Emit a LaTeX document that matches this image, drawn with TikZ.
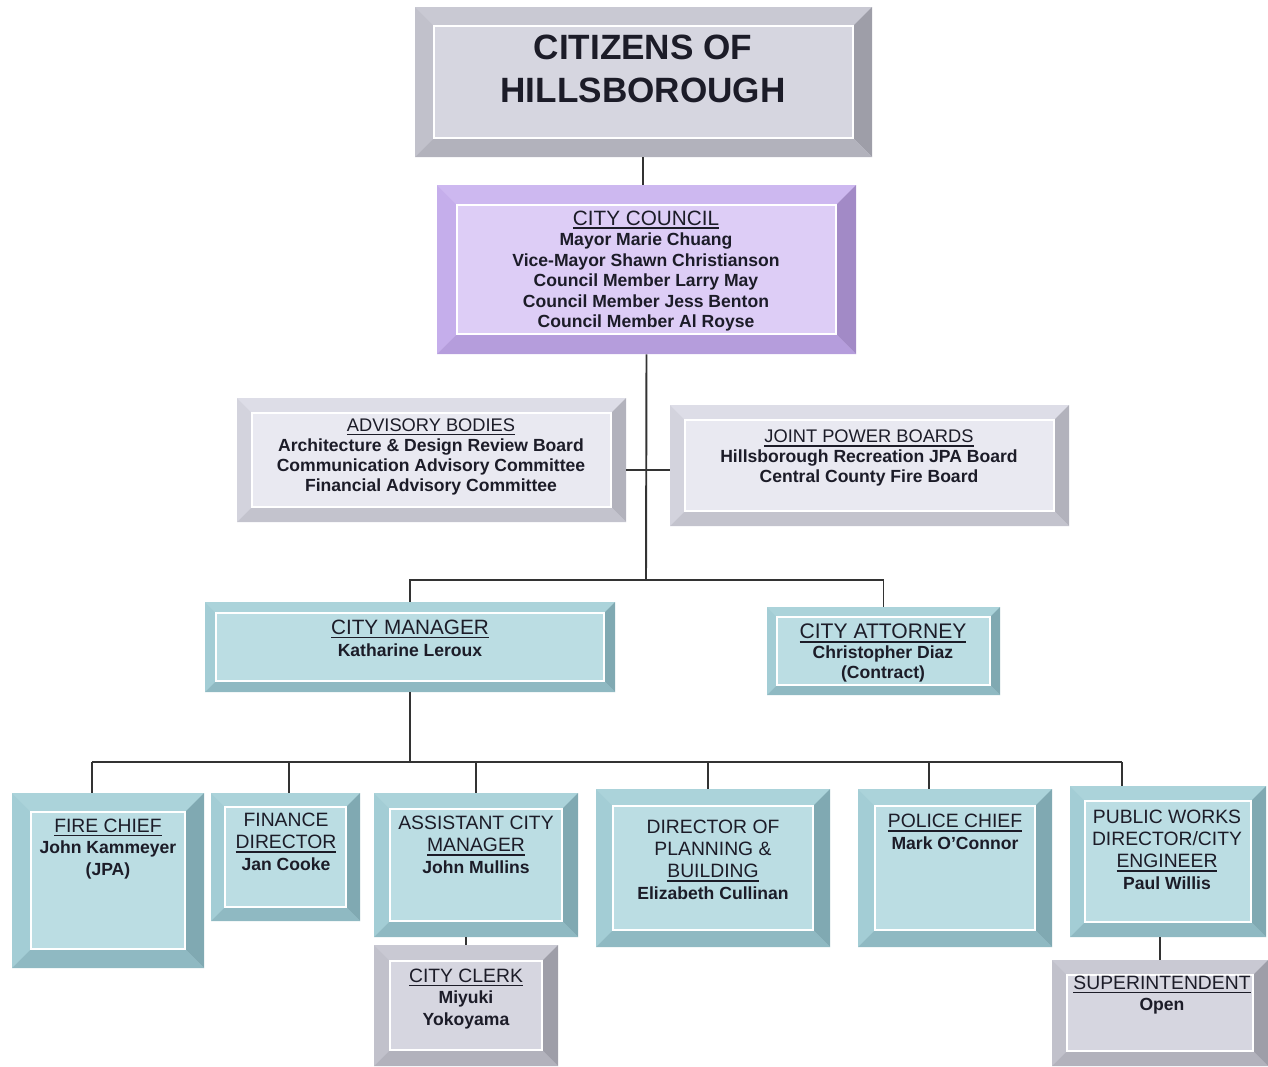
\documentclass[tikz,border=0pt]{standalone}
\usepackage{fontspec}
\setmainfont{Liberation Sans}
\usetikzlibrary{positioning}
\definecolor{Ink}{HTML}{1C1C28}
\definecolor{Wire}{HTML}{333333}
\definecolor{GreyFace}{HTML}{D6D6E0}
\definecolor{GreyTop}{HTML}{C9C9D3}
\definecolor{GreyLeft}{HTML}{C1C1CB}
\definecolor{GreyRight}{HTML}{9E9EA8}
\definecolor{GreyBot}{HTML}{B2B2BC}
\definecolor{LilacFace}{HTML}{DDCDF6}
\definecolor{LilacTop}{HTML}{CDB8F0}
\definecolor{LilacLeft}{HTML}{C5AEEB}
\definecolor{LilacRight}{HTML}{A28AC6}
\definecolor{LilacBot}{HTML}{B59DDC}
\definecolor{MistFace}{HTML}{E9E9F1}
\definecolor{MistTop}{HTML}{DDDDE7}
\definecolor{MistLeft}{HTML}{D3D3DD}
\definecolor{MistRight}{HTML}{B2B2BC}
\definecolor{MistBot}{HTML}{C3C3CD}
\definecolor{TealFace}{HTML}{BBDDE3}
\definecolor{TealTop}{HTML}{ABD3DA}
\definecolor{TealLeft}{HTML}{A3CDD5}
\definecolor{TealRight}{HTML}{80A9B2}
\definecolor{TealBot}{HTML}{8FB9C2}
\newcommand{\ulh}[1]{\setbox0=\hbox{#1}\rlap{\rule[-2.4pt]{\wd0}{1pt}}\box0}
\newcommand{\head}[2][11]{{\mdseries\fontsize{#1}{12}\selectfont\ulh{#2}}}
\newcommand{\headtop}[1]{{\mdseries\fontsize{11}{12}\selectfont #1}}

\begin{document}
\begin{tikzpicture}[x=0.02cm,y=-0.02cm,
  boxsize/.style 2 args={minimum width=#1*0.02cm,minimum height=#2*0.02cm},
  bevel/.code={\pgfmathsetlengthmacro\bevw{#1*0.02cm}},
  orgbox/.style={draw=none,fill=#1Face,inner sep=0pt,
    path picture={
      \coordinate (ne) at (path picture bounding box.north east);
      \coordinate (nw) at (path picture bounding box.north west);
      \coordinate (se) at (path picture bounding box.south east);
      \coordinate (sw) at (path picture bounding box.south west);
      \coordinate (ine) at ([shift={(-\bevw,-\bevw)}]ne);
      \coordinate (inw) at ([shift={(\bevw,-\bevw)}]nw);
      \coordinate (ise) at ([shift={(-\bevw,\bevw)}]se);
      \coordinate (isw) at ([shift={(\bevw,\bevw)}]sw);
      \fill[#1Top] (nw) -- (ne) -- (ine) -- (inw) -- cycle;
      \fill[#1Left] (nw) -- (inw) -- (isw) -- (sw) -- cycle;
      \fill[#1Right] (ne) -- (se) -- (ise) -- (ine) -- cycle;
      \fill[#1Bot] (sw) -- (isw) -- (ise) -- (se) -- cycle;
      \draw[white,line width=0.7pt] (inw) rectangle (ise);
    }},
  txt/.style={align=center,inner sep=0pt,text=Ink,font=\bfseries\fontsize{10}{12.4}\selectfont},
  link/.style={draw=Wire,line width=1.1pt}
]
\useasboundingbox (0,0) rectangle (1268,1066);

% citizens and council
\node[orgbox=Grey,bevel=19,boxsize={457}{150}] (cit) at (643.5,82) {};
\node[txt,font=\bfseries\fontsize{20}{24.5}\selectfont] (cit-t) at (643,69) {CITIZENS OF\\HILLSBOROUGH};
\node[orgbox=Lilac,bevel=20,boxsize={419}{169}] (council) at (646.5,269.5) {};
\node[txt,font=\bfseries\fontsize{10}{11.7}\selectfont] (council-t) at (646,271) {
  \head[11.8]{CITY COUNCIL}\\
  Mayor Marie Chuang\\
  Vice-Mayor Shawn Christianson\\
  Council Member Larry May\\
  Council Member Jess Benton\\
  Council Member Al Royse};

% boards
\node[orgbox=Mist,bevel=15,boxsize={389}{124}] (adv) at (431.5,460) {};
\node[txt,font=\bfseries\fontsize{10}{11.5}\selectfont] (adv-t) at (431,457) {
  \head[10.4]{ADVISORY BODIES}\\
  Architecture \& Design Review Board\\
  Communication Advisory Committee\\
  Financial Advisory Committee};
\node[orgbox=Mist,bevel=15,boxsize={399}{121}] (jpb) at (869.5,465.5) {};
\node[txt,font=\bfseries\fontsize{10}{11.5}\selectfont] (jpb-t) at (869,458) {
  \head[10.4]{JOINT POWER BOARDS}\\
  Hillsborough Recreation JPA Board\\
  Central County Fire Board};

% manager and attorney
\node[orgbox=Teal,bevel=11,boxsize={410}{90}] (mgr) at (410,647) {};
\node[txt] (mgr-t) at (410,638) {\head[11.8]{CITY MANAGER}\\Katharine Leroux};
\node[orgbox=Teal,bevel=10,boxsize={233}{88}] (att) at (883.5,651) {};
\node[txt,font=\bfseries\fontsize{10}{11.5}\selectfont] (att-t) at (883,653) {
  \head[12]{CITY ATTORNEY}\\Christopher Diaz\\(Contract)};

% departments
\node[orgbox=Teal,bevel=19,boxsize={192}{175}] (fire) at (108,880.5) {};
\node[txt] (fire-t) at (108,849) {\head{FIRE CHIEF}\\John Kammeyer\\(JPA)};
\node[orgbox=Teal,bevel=14,boxsize={149}{128}] (fin) at (285.5,857) {};
\node[txt] (fin-t) at (286,842) {\headtop{FINANCE}\\\head{DIRECTOR}\\Jan Cooke};
\node[orgbox=Teal,bevel=16,boxsize={204}{144}] (acm) at (476,865) {};
\node[txt] (acm-t) at (476,845) {\headtop{ASSISTANT CITY}\\\head{MANAGER}\\John Mullins};
\node[orgbox=Teal,bevel=17,boxsize={234}{158}] (dir) at (713,868) {};
\node[txt] (dir-t) at (713,860) {\headtop{DIRECTOR OF}\\\headtop{PLANNING \&}\\\head{BUILDING}\\Elizabeth Cullinan};
\node[orgbox=Teal,bevel=17,boxsize={194}{158}] (pol) at (955,868) {};
\node[txt] (pol-t) at (955,832) {\head{POLICE CHIEF}\\Mark O'Connor};
\node[orgbox=Teal,bevel=15,boxsize={196}{151}] (pw) at (1168,861.5) {};
\node[txt] (pw-t) at (1167,850) {\headtop{PUBLIC WORKS}\\\headtop{DIRECTOR/CITY}\\\head{ENGINEER}\\Paul Willis};

% second row
\node[orgbox=Grey,bevel=16,boxsize={184}{121}] (clerk) at (466,1005.5) {};
\node[txt] (clerk-t) at (466,999) {\head{CITY CLERK}\\Miyuki\\Yokoyama};
\node[orgbox=Grey,bevel=15,boxsize={216}{106}] (super) at (1160,1013) {};
\node[txt] (super-t) at (1162,995) {\head{SUPERINTENDENT}\\Open};

% connectors
\coordinate (tick) at (646,470);
\coordinate (hub) at (646,580);
\coordinate (bar) at (410,762);
\draw[link] (cit.south -| 643,0) -- (council.north -| 643,0);
\draw[link] (council.south) -- (hub);
\draw[link] (adv.east |- tick) -- (jpb.west |- tick);
\draw[link] (mgr.north) |- (hub) -| (att.north);
\draw[link] (mgr.south) -- (bar);
\draw[link] (92,762) -- (1122,762);
\foreach \d/\x in {fire/92,fin/289,acm/476,dir/708,pol/929,pw/1122}
  \draw[link] (\x,762) -- (\x,762 |- \d.north);
\draw[link] (clerk.north) -- (clerk.north |- acm.south);
\draw[link] (super.north) -- (super.north |- pw.south);
\end{tikzpicture}
\end{document}
